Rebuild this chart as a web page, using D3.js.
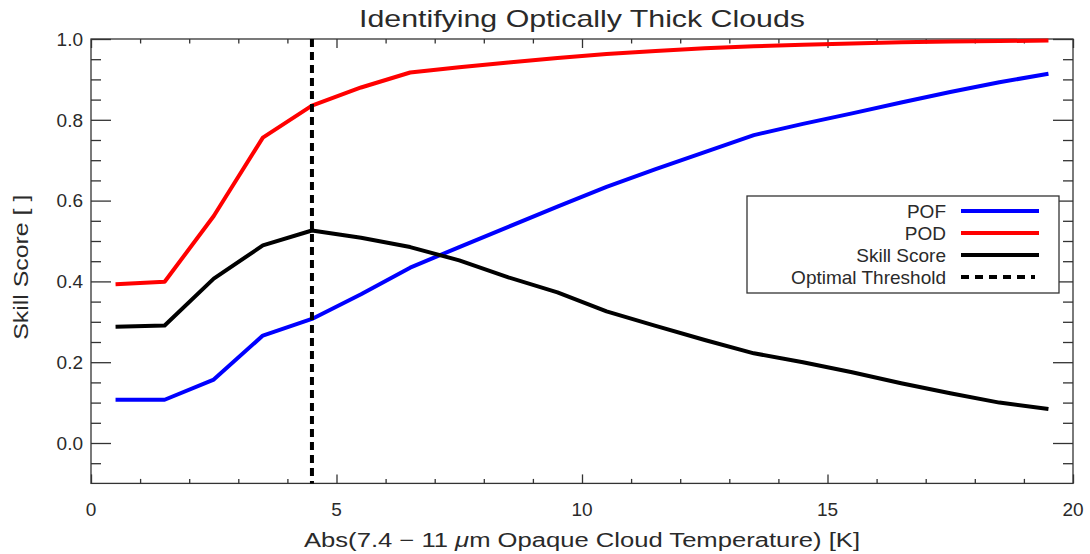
<!DOCTYPE html>
<html><head><meta charset="utf-8">
<script src="https://cdn.jsdelivr.net/npm/d3@7"></script>
<style>
body{margin:0;background:#fff;}
text{font-family:"Liberation Sans","DejaVu Sans",sans-serif;fill:#2a2a2a;}
</style></head>
<body><svg id="c" width="1090" height="554"></svg>
<script>
const xVals = [0.5,1.5,2.5,3.5,4.5,5.5,6.5,7.5,8.5,9.5,10.5,11.5,12.5,13.5,14.5,15.5,16.5,17.5,18.5,19.5];
const pof   = [0.107,0.107,0.157,0.266,0.307,0.368,0.434,0.485,0.535,0.585,0.634,0.678,0.720,0.762,0.790,0.816,0.843,0.869,0.893,0.914];
const pod   = [0.393,0.399,0.562,0.756,0.835,0.880,0.917,0.930,0.942,0.953,0.963,0.970,0.977,0.982,0.986,0.989,0.992,0.994,0.995,0.996];
const skill = [0.288,0.291,0.407,0.489,0.526,0.508,0.485,0.452,0.410,0.373,0.326,0.290,0.255,0.222,0.200,0.175,0.148,0.123,0.100,0.084];
const threshold = 4.5;
const xTicks = [0,5,10,15,20];
const xMinor = [1,2,3,4,6,7,8,9,11,12,13,14,16,17,18,19];
const yTicks = [0.0,0.2,0.4,0.6,0.8,1.0];
const yMinor = [-0.05,0.05,0.1,0.15,0.25,0.3,0.35,0.45,0.5,0.55,0.65,0.7,0.75,0.85,0.9,0.95];
const seriesNames = ["POF","POD","Skill Score","Optimal Threshold"];
const seriesColors = ["#0000ff","#ff0000","#000000","#000000"];
const titleText = "Identifying Optically Thick Clouds";
const yLabel = "Skill Score [ ]";

const svg = d3.select("#c");
const L=91,R=1073,T=39,B=483.4;
const x = d3.scaleLinear().domain([0,20]).range([L,R]);
const y = d3.scaleLinear().domain([-0.1,1.0]).range([B,T]);
const axisCol="#333";

svg.append("rect").attr("x",L).attr("y",T).attr("width",R-L).attr("height",B-T)
  .attr("fill","none").attr("stroke",axisCol).attr("stroke-width",1.3);

function ticks(gen, tr){
  const g = svg.append("g").attr("transform",tr).call(gen);
  g.select(".domain").remove();
  g.selectAll("line").attr("stroke",axisCol).attr("stroke-width",1.3);
  g.selectAll("text").remove();
  return g;
}
ticks(d3.axisTop(x).tickValues(xTicks).tickSize(9).tickFormat(""),`translate(0,${B})`);
ticks(d3.axisTop(x).tickValues(xMinor).tickSize(4.5).tickFormat(""),`translate(0,${B})`);
ticks(d3.axisBottom(x).tickValues(xTicks).tickSize(9).tickFormat(""),`translate(0,${T})`);
ticks(d3.axisBottom(x).tickValues(xMinor).tickSize(4.5).tickFormat(""),`translate(0,${T})`);
ticks(d3.axisRight(y).tickValues(yTicks).tickSize(20).tickFormat(""),`translate(${L},0)`);
ticks(d3.axisRight(y).tickValues(yMinor).tickSize(10).tickFormat(""),`translate(${L},0)`);
ticks(d3.axisLeft(y).tickValues(yTicks).tickSize(20).tickFormat(""),`translate(${R},0)`);
ticks(d3.axisLeft(y).tickValues(yMinor).tickSize(10).tickFormat(""),`translate(${R},0)`);

svg.append("g").selectAll("text").data(yTicks).join("text")
  .attr("x",L-8).attr("y",d=>y(d)).attr("dy","0.36em").attr("text-anchor","end")
  .attr("font-size",19).text(d=>d.toFixed(1));
svg.append("g").selectAll("text").data(xTicks).join("text")
  .attr("x",d=>x(d)).attr("y",516).attr("text-anchor","middle")
  .attr("font-size",19).text(d=>d);

svg.append("text").attr("x",(L+R)/2).attr("y",27).attr("text-anchor","middle")
  .attr("font-size",24).attr("textLength",446).attr("lengthAdjust","spacingAndGlyphs").text(titleText);
const xl = svg.append("text").attr("x",(L+R)/2).attr("y",547).attr("text-anchor","middle")
  .attr("font-size",20).attr("textLength",556).attr("lengthAdjust","spacingAndGlyphs");
xl.append("tspan").text("Abs(7.4 \u2212 11 ");
xl.append("tspan").attr("font-style","italic").text("\u03bc");
xl.append("tspan").text("m Opaque Cloud Temperature) [K]");
svg.append("text").attr("transform",`translate(28,${(T+B)/2+6}) rotate(-90)`).attr("text-anchor","middle")
  .attr("font-size",20).attr("textLength",145).attr("lengthAdjust","spacingAndGlyphs").text(yLabel);

const line = d3.line().x(d=>x(d[0])).y(d=>y(d[1]));
[pof,pod,skill].forEach((s,i)=>{
  svg.append("path").datum(xVals.map((v,j)=>[v,s[j]]))
    .attr("d",line).attr("fill","none").attr("stroke",seriesColors[i])
    .attr("stroke-width",4).attr("stroke-linejoin","round");
});
svg.append("line").attr("x1",x(threshold)).attr("x2",x(threshold))
  .attr("y1",y(1.0)).attr("y2",B).attr("stroke","#000").attr("stroke-width",4)
  .attr("stroke-dasharray","8,5");

const lg = svg.append("g");
lg.append("rect").attr("x",747).attr("y",196).attr("width",312).attr("height",97)
  .attr("fill","#fff").attr("stroke",axisCol).attr("stroke-width",1.3);
const rowY=[211,233,255,277];
seriesNames.forEach((n,i)=>{
  lg.append("text").attr("x",946).attr("y",rowY[i]).attr("dy","0.36em")
    .attr("text-anchor","end").attr("font-size",19).text(n);
  lg.append("line").attr("x1",961).attr("x2",i===3?1035:1039).attr("y1",rowY[i]).attr("y2",rowY[i])
    .attr("stroke",seriesColors[i]).attr("stroke-width",4)
    .attr("stroke-dasharray",i===3?"8,6":null);
});
</script></body></html>
